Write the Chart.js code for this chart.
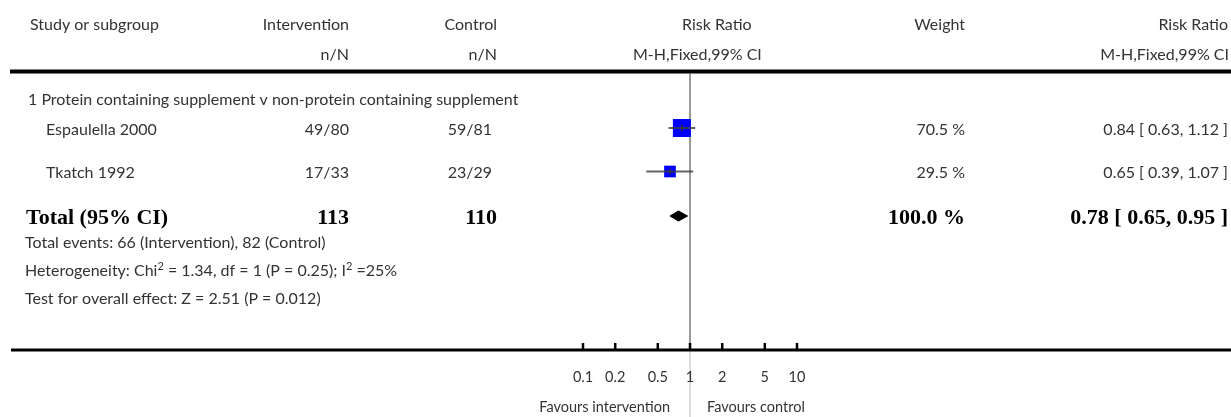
<!DOCTYPE html>
<html>
<head>
<meta charset="utf-8">
<script src="https://cdn.jsdelivr.net/npm/chart.js@4.4.0/dist/chart.umd.min.js"></script>
<style>
  html, body { margin: 0; padding: 0; background: #fff; }
</style>
</head>
<body>
<canvas id="forest" width="1231" height="417"></canvas>
<script>
// data
const studies = ['Espaulella 2000', 'Tkatch 1992'];
const interventionNN = ['49/80', '17/33'];
const controlNN = ['59/81', '23/29'];
const riskRatio = [0.84, 0.65];
const ciLower = [0.63, 0.39];
const ciUpper = [1.12, 1.07];
const weights = [70.5, 29.5];
const rrText = ['0.84 [ 0.63, 1.12 ]', '0.65 [ 0.39, 1.07 ]'];
const totalRR = [0.78, 0.65, 0.95];
const totalN = ['113', '110'];
const tickValues = [0.1, 0.2, 0.5, 1, 2, 5, 10];
const tickLabels = ['0.1', '0.2', '0.5', '1', '2', '5', '10'];

// row layout (y scale units are pixels from the top)
const rowY = { head1: 25, head2: 55, rule: 71.5, group: 100, study: [128, 171.5], total: 216,
  events: 243, het: 271, test: 299, axis: 350 };

const FONT = '16px Lato';
const BOLD = 'bold 22px "Liberation Serif"';

const ctx = document.getElementById('forest').getContext('2d');

const ciSets = studies.map((s, i) => ({
  data: [{ x: ciLower[i], y: rowY.study[i] }, { x: ciUpper[i], y: rowY.study[i] }],
  showLine: true,
  borderColor: 'rgba(60,60,60,0.8)',
  borderWidth: 2,
  pointRadius: 0,
  order: 1
}));

const textPlugin = {
  id: 'forestText',
  afterDraw(chart) {
    const c = chart.ctx;
    const xs = chart.scales.x, ys = chart.scales.y;
    const Y = v => ys.getPixelForValue(v);
    c.save();
    c.textBaseline = 'middle';

    function txt(s, x, y, align, font, color) {
      c.font = font || FONT;
      c.fillStyle = color || '#333';
      c.textAlign = align || 'left';
      c.fillText(s, x, y);
    }
    // text with superscript parts: ['normal', 'sup', 'normal', ...]
    function supTxt(parts, x, y) {
      c.textAlign = 'left';
      c.fillStyle = '#333';
      parts.forEach((p, i) => {
        const sup = i % 2 === 1;
        c.font = sup ? '11px Lato' : FONT;
        c.fillText(p, x, sup ? y - 5 : y);
        x += c.measureText(p).width;
      });
    }

    // header
    txt('Study or subgroup', 30, Y(rowY.head1));
    txt('Intervention', 349, Y(rowY.head1), 'right');
    txt('n/N', 349, Y(rowY.head2), 'right');
    txt('Control', 497, Y(rowY.head1), 'right');
    txt('n/N', 497, Y(rowY.head2), 'right');
    txt('Risk Ratio', 682, Y(rowY.head1));
    txt('M-H,Fixed,99% CI', 633, Y(rowY.head2));
    txt('Weight', 965, Y(rowY.head1), 'right');
    txt('Risk Ratio', 1228, Y(rowY.head1), 'right');
    txt('M-H,Fixed,99% CI', 1229, Y(rowY.head2), 'right');

    // rule under header
    c.strokeStyle = '#000';
    c.lineWidth = 4;
    c.beginPath();
    c.moveTo(10, Y(rowY.rule));
    c.lineTo(1231, Y(rowY.rule));
    c.stroke();

    txt('1 Protein containing supplement v non-protein containing supplement', 28, Y(rowY.group));
    studies.forEach((s, i) => {
      const y = Y(rowY.study[i]) + 1.5;
      txt(s, 46, y);
      txt(interventionNN[i], 349, y, 'right');
      txt(controlNN[i], 492, y, 'right');
      txt(weights[i].toFixed(1) + ' %', 965, y, 'right');
      txt(rrText[i], 1228, y, 'right');
    });

    const ty = Y(rowY.total) + 2;
    txt('Total (95% CI)', 26, ty, 'left', BOLD, '#000');
    txt(totalN[0], 349, ty, 'right', BOLD, '#000');
    txt(totalN[1], 497, ty, 'right', BOLD, '#000');
    txt('100.0 %', 965, ty, 'right', BOLD, '#000');
    txt(totalRR[0].toFixed(2) + ' [ ' + totalRR[1].toFixed(2) + ', ' + totalRR[2].toFixed(2) + ' ]',
      1228, ty, 'right', BOLD, '#000');

    txt('Total events: 66 (Intervention), 82 (Control)', 25, Y(rowY.events));
    supTxt(['Heterogeneity: Chi', '2', ' = 1.34, df = 1 (P = 0.25); I', '2', ' =25%'], 25, Y(rowY.het));
    txt('Test for overall effect: Z = 2.51 (P = 0.012)', 25, Y(rowY.test));

    // x axis
    const ay = Y(rowY.axis);
    c.lineWidth = 3;
    c.beginPath();
    c.moveTo(11, ay);
    c.lineTo(1231, ay);
    c.stroke();
    c.lineWidth = 2.5;
    tickValues.forEach((v, i) => {
      const x = xs.getPixelForValue(v);
      c.beginPath();
      c.moveTo(x, ay - 7);
      c.lineTo(x, ay);
      c.stroke();
      txt(tickLabels[i], x, ay + 27, 'center', '14.5px Lato');
    });
    const one = xs.getPixelForValue(1);
    txt('Favours intervention', one - 20, ay + 57, 'right', '14.5px Lato');
    txt('Favours control', one + 17, ay + 57, 'left', '14.5px Lato');
    c.restore();
  }
};

new Chart(ctx, {
  type: 'scatter',
  data: {
    datasets: [
      // point estimate marks on the CI lines
      {
        data: studies.map((s, i) => ({ x: riskRatio[i], y: rowY.study[i] })),
        pointStyle: 'line',
        rotation: 90,
        pointRadius: 3,
        borderColor: '#333',
        borderWidth: 1.5,
        order: 0
      },
      ...ciSets,
      // weighted squares
      {
        data: studies.map((s, i) => ({ x: riskRatio[i], y: rowY.study[i] })),
        pointStyle: 'rect',
        pointRadius: weights.map(w => 15.2 * Math.sqrt(w / 100)),
        backgroundColor: '#0000ff',
        borderWidth: 0,
        order: 2
      },
      // pooled diamond
      {
        data: [
          { x: totalRR[1], y: rowY.total },
          { x: totalRR[0], y: rowY.total - 5 },
          { x: totalRR[2], y: rowY.total },
          { x: totalRR[0], y: rowY.total + 5 },
          { x: totalRR[1], y: rowY.total }
        ],
        showLine: true,
        fill: 'shape',
        backgroundColor: '#000',
        borderColor: '#000',
        borderWidth: 1,
        pointRadius: 0,
        order: 1
      },
      // line of no effect
      {
        data: [{ x: 1, y: rowY.rule + 2 }, { x: 1, y: rowY.axis }],
        showLine: true,
        borderColor: '#9a9a9a',
        borderWidth: 2,
        pointRadius: 0,
        order: 3
      },
      {
        data: [{ x: 1, y: rowY.axis }, { x: 1, y: 417 }],
        showLine: true,
        borderColor: '#dcdcdc',
        borderWidth: 2,
        pointRadius: 0,
        clip: false,
        order: 3
      }
    ]
  },
  options: {
    responsive: false,
    animation: false,
    devicePixelRatio: 1,
    layout: { autoPadding: false, padding: { left: 583, right: 434, top: 0, bottom: 67 } },
    scales: {
      x: { type: 'logarithmic', min: 0.1, max: 10, display: false },
      y: { type: 'linear', min: 0, max: 350, reverse: true, display: false }
    },
    plugins: {
      legend: { display: false },
      tooltip: { enabled: false }
    }
  },
  plugins: [textPlugin]
});
</script>
</body>
</html>
